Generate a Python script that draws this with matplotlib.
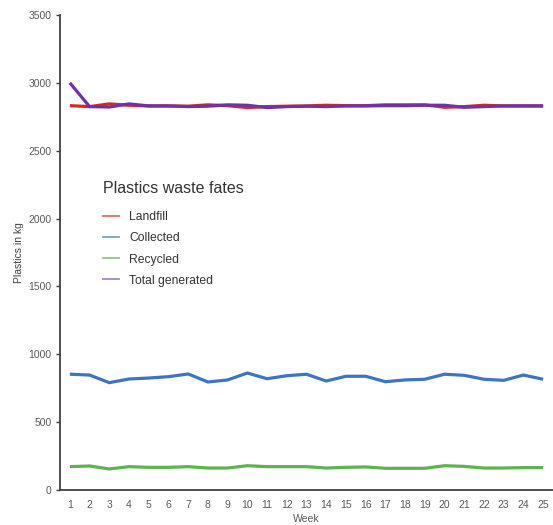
import matplotlib
matplotlib.use("Agg")
import matplotlib.pyplot as plt
from matplotlib.lines import Line2D

weeks = list(range(1, 26))
landfill = [2832, 2825, 2845, 2835, 2830, 2830, 2828, 2838, 2832, 2818, 2825, 2828, 2830,
            2835, 2832, 2832, 2838, 2838, 2838, 2820, 2825, 2835, 2830, 2830, 2830]
collected = [853, 847, 791, 818, 825, 835, 855, 796, 811, 862, 820, 842, 853,
             803, 838, 838, 798, 811, 816, 853, 845, 816, 808, 847, 816]
recycled = [172, 177, 155, 172, 167, 167, 172, 162, 162, 179, 172, 172, 172,
            162, 167, 170, 160, 160, 160, 179, 174, 162, 162, 165, 165]
total = [3000, 2825, 2822, 2845, 2830, 2830, 2825, 2828, 2838, 2835, 2818, 2825, 2828,
         2825, 2830, 2830, 2832, 2832, 2835, 2835, 2820, 2825, 2830, 2830, 2830]

series_names = ["Landfill", "Collected", "Recycled", "Total generated"]
colors = ["#D42A20", "#3D75C4", "#5DB34F", "#7032A8"]
legend_colors = ["#E07060", "#7A9ED6", "#8CCB80", "#A983CF"]

plt.rcParams['font.family'] = ['Liberation Sans', 'DejaVu Sans']

W, H = 553, 525
fig = plt.figure(figsize=(W / 100, H / 100), dpi=100)
ax = fig.add_axes([60 / W, 35 / H, (553 - 60) / W, (490 - 15) / H])

for vals, c in zip([landfill, collected, recycled, total], colors):
    ax.plot(weeks, vals, color=c, lw=2.3, solid_capstyle='butt', solid_joinstyle='round')

ax.set_xlim(0.5, 25.5)
ax.set_ylim(0, 3500)
ax.set_yticks(range(0, 3501, 500))
ax.set_xticks(weeks)
ax.set_xticklabels([str(w) for w in weeks])

for s in ['top', 'right']:
    ax.spines[s].set_visible(False)
for s in ['left', 'bottom']:
    ax.spines[s].set_color('#404040')
    ax.spines[s].set_linewidth(1.3)

ax.tick_params(axis='y', length=3, width=1, color='#404040', labelsize=7.5, labelcolor='#595959', pad=3)
ax.tick_params(axis='x', length=0, labelsize=7.5, labelcolor='#595959', pad=7)

ax.set_xlabel("Week", fontsize=7.5, color='#595959', labelpad=3)
ax.set_ylabel("Plastics in kg", fontsize=7.5, color='#404040', labelpad=3)

handles = [Line2D([], [], color=c, lw=1.3) for c in legend_colors]
leg = ax.legend(handles, series_names, loc='upper left', bbox_to_anchor=(92 / W, 1 - 170 / H),
                bbox_transform=fig.transFigure, frameon=False, title="Plastics waste fates",
                title_fontsize=11.5, fontsize=8.7, handlelength=1.3, handletextpad=0.9,
                labelspacing=0.76, alignment='left')
for t in leg.get_texts():
    t.set_color('#333333')
leg.get_title().set_color('#333333')
leg._legend_box.sep = 11

fig.savefig("out.png", dpi=100)
